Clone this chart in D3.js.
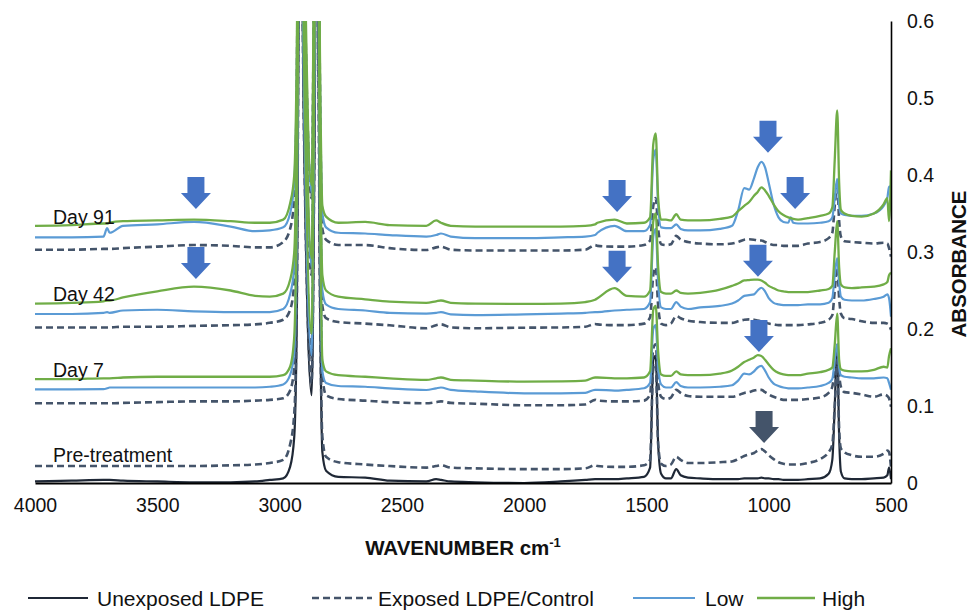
<!DOCTYPE html>
<html><head><meta charset="utf-8">
<script src="https://cdn.jsdelivr.net/npm/d3@7"></script>
<style>
html,body{margin:0;padding:0;background:#fff;}
svg{display:block;font-family:"Liberation Sans",Arial,Helvetica,sans-serif;}
</style></head>
<body>
<svg id="chart" width="971" height="611"></svg>
<script>
const wavenumbers = [4000,3850,3720,3705,3695,3640,3500,3350,3200,3100,
3040,2985,2957,2940,2930,2916,2900,2869,2858,2848,
2835,2825,2810,2760,2650,2550,2400,2360,2340,2300,
2200,2000,1850,1750,1710,1700,1630,1580,1510,1485,
1472,1462,1452,1440,1420,1400,1378,1360,1330,1280,
1200,1150,1125,1100,1080,1060,1045,1030,1015,1000,
980,960,940,920,910,900,880,840,790,755,
740,730,720,712,705,690,660,620,570,530,
515,508,500];

const unexposed = [0.002,0.003,0.004,0.004,0.004,0.003,0.002,0.001,0.001,0.002,
0.004,0.006,0.021,0.06,0.2,0.85,0.45,0.114,0.4,0.85,
0.25,0.04,0.016,0.008,0.007,0.003,0.002,0.005,0.004,0.002,
0.001,0.000,0.002,0.004,0.005,0.005,0.005,0.006,0.008,0.02,
0.16,0.165,0.05,0.012,0.006,0.006,0.018,0.01,0.007,0.006,
0.005,0.005,0.005,0.006,0.006,0.006,0.006,0.007,0.006,0.006,
0.005,0.005,0.004,0.004,0.004,0.004,0.004,0.005,0.006,0.012,
0.03,0.1,0.18,0.06,0.015,0.006,0.005,0.005,0.006,0.007,
0.01,0.02,0.005];

const preExposed = [0.022,0.022,0.022,0.022,0.022,0.022,0.022,0.022,0.023,0.024,
0.026,0.03,0.05,0.09,0.22,0.85,0.45,0.13,0.42,0.85,
0.25,0.06,0.034,0.027,0.024,0.022,0.02,0.022,0.023,0.02,
0.019,0.018,0.018,0.019,0.023,0.022,0.021,0.021,0.023,0.03,
0.15,0.155,0.05,0.025,0.022,0.024,0.034,0.03,0.026,0.026,
0.027,0.028,0.031,0.035,0.037,0.039,0.042,0.044,0.041,0.036,
0.031,0.027,0.025,0.024,0.024,0.024,0.024,0.026,0.031,0.04,
0.05,0.1,0.16,0.07,0.045,0.04,0.036,0.034,0.034,0.038,
0.042,0.04,0.02];

const day7Control = [0.1035,0.1035,0.1035,0.1035,0.1035,0.104,0.105,0.106,0.106,0.107,
0.108,0.11,0.12,0.15,0.3,0.9,0.5,0.16,0.5,0.9,
0.35,0.14,0.114,0.109,0.107,0.105,0.1035,0.105,0.106,0.104,
0.103,0.101,0.101,0.102,0.108,0.107,0.106,0.106,0.107,0.115,
0.175,0.18,0.13,0.112,0.109,0.111,0.121,0.117,0.113,0.112,
0.112,0.112,0.114,0.117,0.118,0.12,0.121,0.121,0.118,0.115,
0.112,0.11,0.108,0.108,0.108,0.108,0.108,0.109,0.111,0.117,
0.125,0.15,0.17,0.14,0.125,0.118,0.117,0.115,0.112,0.115,
0.113,0.11,0.099];

const day7Low = [0.1217,0.1217,0.122,0.123,0.124,0.124,0.124,0.124,0.124,0.124,
0.125,0.128,0.14,0.17,0.32,0.9,0.5,0.166,0.5,0.9,
0.35,0.145,0.13,0.126,0.125,0.123,0.1208,0.123,0.124,0.121,
0.119,0.1165,0.1165,0.117,0.121,0.121,0.12,0.121,0.123,0.13,
0.2,0.205,0.15,0.128,0.124,0.124,0.131,0.126,0.124,0.124,
0.125,0.127,0.133,0.142,0.141,0.145,0.15,0.152,0.146,0.137,
0.129,0.126,0.124,0.123,0.123,0.123,0.123,0.124,0.126,0.13,
0.135,0.16,0.18,0.15,0.14,0.138,0.137,0.136,0.136,0.137,
0.136,0.13,0.121];

const day7High = [0.135,0.135,0.136,0.136,0.136,0.137,0.138,0.138,0.138,0.138,
0.138,0.14,0.151,0.19,0.35,0.95,0.55,0.194,0.55,0.95,
0.38,0.16,0.145,0.14,0.138,0.136,0.1338,0.136,0.137,0.134,
0.133,0.1316,0.132,0.133,0.137,0.137,0.136,0.136,0.137,0.145,
0.225,0.23,0.17,0.141,0.139,0.139,0.145,0.141,0.14,0.14,
0.142,0.146,0.151,0.157,0.16,0.163,0.166,0.165,0.16,0.154,
0.147,0.143,0.141,0.14,0.14,0.14,0.14,0.142,0.144,0.147,
0.15,0.18,0.22,0.16,0.148,0.146,0.145,0.145,0.147,0.151,
0.15,0.165,0.175];

const day42Control = [0.202,0.202,0.202,0.202,0.202,0.203,0.203,0.204,0.205,0.206,
0.208,0.212,0.2247,0.26,0.4,1.0,0.6,0.27,0.6,1.0,
0.42,0.23,0.214,0.209,0.207,0.2048,0.201,0.205,0.206,0.202,
0.201,0.2017,0.202,0.203,0.2065,0.206,0.205,0.205,0.207,0.215,
0.27,0.28,0.23,0.207,0.205,0.207,0.2169,0.214,0.2108,0.209,
0.208,0.208,0.21,0.212,0.2125,0.212,0.211,0.21,0.209,0.207,
0.206,0.205,0.205,0.205,0.205,0.205,0.205,0.206,0.208,0.212,
0.218,0.25,0.28,0.24,0.22,0.214,0.213,0.21,0.208,0.208,
0.207,0.205,0.199];

const day42Low = [0.2195,0.2195,0.221,0.222,0.221,0.224,0.225,0.223,0.222,0.222,
0.222,0.226,0.245,0.28,0.42,1.0,0.6,0.281,0.6,1.0,
0.44,0.25,0.232,0.226,0.224,0.221,0.22,0.221,0.222,0.219,
0.218,0.219,0.22,0.221,0.222,0.222,0.224,0.225,0.226,0.235,
0.32,0.33,0.26,0.228,0.226,0.226,0.235,0.229,0.226,0.228,
0.23,0.233,0.237,0.243,0.244,0.245,0.25,0.2536,0.249,0.24,
0.234,0.232,0.231,0.231,0.231,0.231,0.231,0.232,0.232,0.234,
0.24,0.27,0.292,0.26,0.242,0.238,0.237,0.237,0.239,0.242,
0.245,0.24,0.216];

const day42High = [0.233,0.234,0.236,0.237,0.237,0.241,0.249,0.255,0.25,0.243,
0.242,0.246,0.2636,0.3,0.45,1.0,0.65,0.292,0.65,1.0,
0.46,0.27,0.25,0.242,0.2385,0.2355,0.234,0.236,0.237,0.234,
0.233,0.2325,0.233,0.235,0.238,0.24,0.253,0.243,0.242,0.25,
0.34,0.35,0.28,0.248,0.246,0.246,0.25,0.247,0.246,0.247,
0.251,0.256,0.259,0.263,0.2636,0.264,0.264,0.263,0.26,0.256,
0.253,0.25,0.249,0.248,0.248,0.248,0.248,0.248,0.25,0.252,
0.256,0.3,0.34,0.28,0.258,0.254,0.253,0.254,0.255,0.258,
0.261,0.27,0.273];

const day91Control = [0.303,0.303,0.304,0.304,0.304,0.305,0.307,0.309,0.308,0.306,
0.306,0.313,0.33,0.37,0.5,1.1,0.7,0.37,0.7,1.1,
0.52,0.33,0.316,0.309,0.309,0.305,0.3026,0.306,0.307,0.303,
0.302,0.302,0.302,0.303,0.309,0.308,0.307,0.307,0.309,0.315,
0.36,0.37,0.33,0.31,0.309,0.31,0.321,0.316,0.313,0.311,
0.31,0.311,0.313,0.316,0.3165,0.316,0.315,0.315,0.313,0.311,
0.309,0.309,0.308,0.308,0.308,0.308,0.308,0.311,0.313,0.318,
0.325,0.36,0.39,0.34,0.32,0.314,0.313,0.312,0.311,0.312,
0.311,0.305,0.294];

const day91Low = [0.319,0.319,0.32,0.331,0.325,0.334,0.336,0.339,0.333,0.327,
0.328,0.332,0.35,0.39,0.52,1.1,0.7,0.377,0.7,1.1,
0.53,0.35,0.332,0.325,0.324,0.322,0.32,0.322,0.324,0.32,
0.318,0.318,0.319,0.32,0.322,0.325,0.334,0.327,0.327,0.335,
0.42,0.433,0.36,0.332,0.331,0.331,0.336,0.33,0.328,0.328,
0.33,0.334,0.354,0.383,0.381,0.396,0.41,0.417,0.41,0.39,
0.362,0.345,0.339,0.338,0.345,0.338,0.337,0.337,0.338,0.34,
0.345,0.37,0.395,0.36,0.35,0.348,0.347,0.347,0.35,0.36,
0.37,0.385,0.385];

const day91High = [0.334,0.335,0.337,0.337,0.338,0.34,0.341,0.342,0.34,0.338,
0.338,0.342,0.363,0.4,0.55,1.15,0.75,0.387,0.75,1.15,
0.56,0.36,0.346,0.338,0.339,0.335,0.334,0.341,0.338,0.334,
0.333,0.333,0.333,0.334,0.336,0.338,0.342,0.337,0.338,0.345,
0.44,0.454,0.37,0.342,0.342,0.341,0.349,0.342,0.341,0.341,
0.343,0.346,0.353,0.36,0.365,0.373,0.378,0.384,0.38,0.373,
0.362,0.353,0.348,0.345,0.344,0.343,0.342,0.344,0.347,0.35,
0.358,0.42,0.484,0.39,0.355,0.35,0.347,0.346,0.35,0.362,
0.37,0.34,0.406];

const xTicks = [4000,3500,3000,2500,2000,1500,1000,500];
const yTicks = [0,0.1,0.2,0.3,0.4,0.5,0.6];
const dayLabels = [
  {text:"Day 91", level:0.346},
  {text:"Day 42", level:0.246},
  {text:"Day 7", level:0.147},
  {text:"Pre-treatment", level:0.036}
];
// arrow annotations: wavenumber of arrow centre, absorbance at arrow tip
const arrows = [
  {wn:3342, tip:0.356, dark:false},
  {wn:1620, tip:0.352, dark:false},
  {wn:1003, tip:0.429, dark:false},
  {wn:892,  tip:0.356, dark:false},
  {wn:3342, tip:0.265, dark:false},
  {wn:1620, tip:0.260, dark:false},
  {wn:1044, tip:0.268, dark:false},
  {wn:1040, tip:0.170, dark:false},
  {wn:1019, tip:0.052, dark:true}
];
const legendNames = ["Unexposed LDPE","Exposed LDPE/Control","Low","High"];

const C = {solid:"#1f2836", dash:"#44546a", low:"#5b9bd5", high:"#70ad47", arrow:"#4472c4", arrowDark:"#44546a"};

const svg = d3.select("#chart");
const L = 35, R = 891, T = 21, B = 483;
const x = d3.scaleLinear().domain([4000,500]).range([L,R]);
const y = d3.scaleLinear().domain([0,0.6]).range([B,T]);

svg.append("defs").append("clipPath").attr("id","plot")
  .append("rect").attr("x",L).attr("y",T).attr("width",R-L).attr("height",B-T);

const series = [
  {v:unexposed, kind:"solid"},
  {v:preExposed, kind:"dash"},
  {v:day7Control, kind:"dash"},
  {v:day42Control, kind:"dash"},
  {v:day91Control, kind:"dash"},
  {v:day7Low, kind:"low"},
  {v:day42Low, kind:"low"},
  {v:day91Low, kind:"low"},
  {v:day7High, kind:"high"},
  {v:day42High, kind:"high"},
  {v:day91High, kind:"high"}
];
const style = {
  solid:{c:C.solid,w:2.2,d:null},
  dash:{c:C.dash,w:2.6,d:"7,4"},
  low:{c:C.low,w:2.2,d:null},
  high:{c:C.high,w:2.3,d:null}
};

const line = d3.line()
  .x((d,i)=>x(wavenumbers[i]))
  .y(d=>y(d))
  .curve(d3.curveMonotoneX);

const g = svg.append("g").attr("clip-path","url(#plot)");
series.forEach(s=>{
  const st = style[s.kind];
  g.append("path").datum(s.v)
    .attr("d",line)
    .attr("fill","none")
    .attr("stroke",st.c)
    .attr("stroke-width",st.w)
    .attr("stroke-linejoin","round")
    .attr("stroke-dasharray",st.d);
});

// axes
const xAxis = d3.axisBottom(x).tickValues(xTicks).tickSize(0).tickPadding(15).tickFormat(d3.format("d"));
const yAxis = d3.axisRight(y).tickValues(yTicks).tickSize(0).tickPadding(16)
  .tickFormat(d=> d===0 ? "0" : d3.format(".1f")(d));

const gx = svg.append("g").attr("transform",`translate(0,${B})`).call(xAxis);
const gy = svg.append("g").attr("transform",`translate(${R},0)`).call(yAxis);
gx.select(".domain").attr("stroke","#000").attr("stroke-width",2.2);
gy.select(".domain").attr("stroke","#000").attr("stroke-width",1.6);
[gx,gy].forEach(a=>{
  a.selectAll("text").attr("font-family","'Liberation Sans',Arial,sans-serif")
    .attr("font-size",19.5).attr("fill","#111");
});

// axis titles
const xt = svg.append("text").attr("x",463).attr("y",555).attr("text-anchor","middle")
  .attr("font-size",20.5).attr("font-weight","bold").attr("fill","#111");
xt.append("tspan").text("WAVENUMBER cm");
xt.append("tspan").text("-1").attr("font-size",13).attr("dy",-8);

svg.append("text").attr("transform","translate(966,264) rotate(-90)")
  .attr("text-anchor","middle").attr("font-size",20.5).attr("font-weight","bold")
  .attr("fill","#111").text("ABSORBANCE");

// day labels
dayLabels.forEach(d=>{
  svg.append("text").attr("x",53).attr("y",y(d.level)+7).attr("font-size",19.5)
    .attr("fill","#111").text(d.text);
});

// arrows
const aH = 32, headW = 30, shaftW = 17, headH = 16;
arrows.forEach(a=>{
  const cx = x(a.wn), ty = y(a.tip);
  const top = ty - aH, hs = ty - headH;
  const pts = [
    [cx-shaftW/2, top],[cx+shaftW/2, top],[cx+shaftW/2, hs],[cx+headW/2, hs],
    [cx, ty],[cx-headW/2, hs],[cx-shaftW/2, hs]
  ];
  svg.append("polygon").attr("points",pts.map(p=>p.join(",")).join(" "))
    .attr("fill", a.dark ? C.arrowDark : C.arrow);
});

// legend
const legY = 598;
const legItems = [
  {x1:28,x2:88,tx:97,st:style.solid},
  {x1:312,x2:372,tx:378,st:style.dash},
  {x1:633,x2:695,tx:705,st:style.low},
  {x1:757,x2:815,tx:822,st:style.high}
];
legItems.forEach((it,i)=>{
  svg.append("line").attr("x1",it.x1).attr("x2",it.x2).attr("y1",legY).attr("y2",legY)
    .attr("stroke",it.st.c).attr("stroke-width",it.st.w).attr("stroke-dasharray",it.st.d);
  svg.append("text").attr("x",it.tx).attr("y",legY+8).attr("font-size",21)
    .attr("fill","#111").text(legendNames[i]);
});
</script>
</body></html>
